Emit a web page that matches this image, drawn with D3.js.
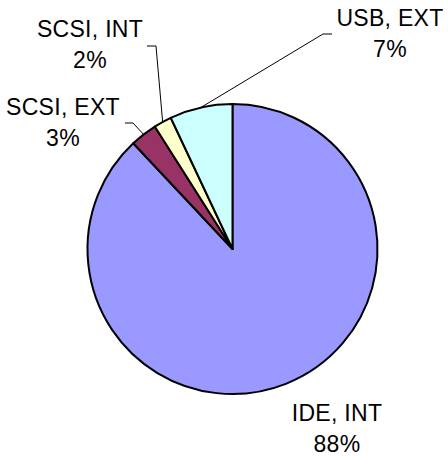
<!DOCTYPE html>
<html>
<head>
<meta charset="utf-8">
<script src="https://cdn.jsdelivr.net/npm/d3@7"></script>
<style>
  body { margin: 0; background: #fff; }
  text { font-family: Arial, "Liberation Sans", sans-serif; font-size: 23px; letter-spacing: 0.3px; fill: #000; }
</style>
</head>
<body>
<svg id="chart" width="448" height="457"></svg>
<script>
// chart data
var categories = ["IDE, INT", "SCSI, EXT", "SCSI, INT", "USB, EXT"];
var shares = [88, 3, 2, 7];
var colors = ["#9999FF", "#993366", "#FFFFCC", "#CCFFFF"];

// label placement (text centre x, first baseline y) and leader elbows
var labelPos = [[337, 421], [63, 115], [90, 37], [390, 26]];
var leaders = [null, [[133, 123], [125, 123]], [[156, 46], [147, 46]], [[323, 34], [332, 34]]];

var cx = 232.5, cy = 249, radius = 145;

var svg = d3.select('#chart');
var g = svg.append('g').attr('transform', 'translate(' + cx + ',' + cy + ')');

var pie = d3.pie().sort(null).value(function(d){ return d; });
var arcs = pie(shares);

var arc = d3.arc().innerRadius(0).outerRadius(radius);

g.selectAll('path.slice')
  .data(arcs)
  .enter()
  .append('path')
  .attr('class', 'slice')
  .attr('d', arc)
  .attr('fill', function(d, i){ return colors[i]; })
  .attr('stroke', '#000')
  .attr('stroke-width', 2)
  .attr('stroke-linejoin', 'round');

// leader lines from slice edge to label
arcs.forEach(function(d, i){
  if (!leaders[i]) return;
  var a = (d.startAngle + d.endAngle) / 2;
  var p0 = [cx + radius * Math.sin(a), cy - radius * Math.cos(a)];
  var pts = [p0].concat(leaders[i]);
  svg.append('path')
    .attr('d', d3.line()(pts))
    .attr('fill', 'none')
    .attr('stroke', '#000')
    .attr('stroke-width', 1);
});

// labels
var total = d3.sum(shares);
var lab = svg.selectAll('g.label')
  .data(arcs)
  .enter()
  .append('g')
  .attr('class', 'label');

lab.append('text')
  .attr('x', function(d, i){ return labelPos[i][0]; })
  .attr('y', function(d, i){ return labelPos[i][1]; })
  .attr('text-anchor', 'middle')
  .text(function(d, i){ return categories[i]; });

lab.append('text')
  .attr('x', function(d, i){ return labelPos[i][0]; })
  .attr('y', function(d, i){ return labelPos[i][1] + 31; })
  .attr('text-anchor', 'middle')
  .text(function(d){ return Math.round(d.value / total * 100) + '%'; });
</script>
</body>
</html>
